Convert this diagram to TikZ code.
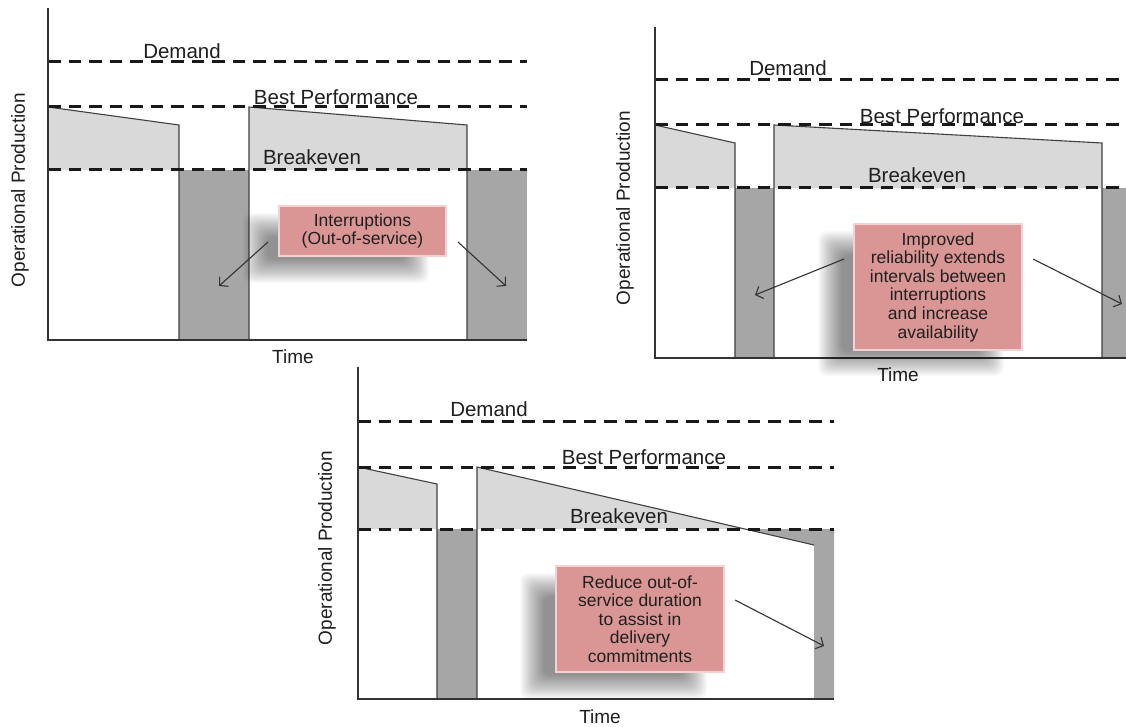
\documentclass[tikz,border=0pt]{standalone}
\usepackage{fontspec}
\setmainfont{Liberation Sans}
\usetikzlibrary{arrows.meta}
\definecolor{lgray}{HTML}{D9D9D9}
\definecolor{dgray}{HTML}{A6A6A6}
\definecolor{edgec}{HTML}{404040}
\definecolor{boxfill}{HTML}{D99694}
\definecolor{boxedge}{HTML}{F4D2D2}
\definecolor{txt}{HTML}{1F1F1F}
\newcommand\mysoftshadow[4]{%
  \foreach \r in {-12,-11,...,12}{%
    \fill[black,opacity=0.021,rounded corners=8pt] ({#1-\r},{#2-\r}) rectangle ({#3+\r},{#4+\r});
  }}
\begin{document}
\begin{tikzpicture}[x=1pt,y=-1pt,
  dashedline/.style={line width=3pt, dash pattern=on 12.5pt off 8pt, black!90},
  outline/.style={edgec, line width=1.1pt},
  axisline/.style={black!80, line width=1.3pt},
  lbl/.style={font=\fontsize{20.5}{24}\selectfont, text=txt, inner sep=0pt},
  axlbl/.style={font=\fontsize{19}{22}\selectfont, text=txt, inner sep=0pt},
  callout/.style={fill=boxfill, draw=boxedge, line width=1.6pt,
    font=\fontsize{17.5}{18.6}\selectfont, text=txt, align=center, inner sep=0pt},
  arr/.style={-{Straight Barb[length=6pt,width=13pt]}, line width=1.1pt, black!80}]
\useasboundingbox (0,0) rectangle (1126,727);
\fill[white] (0,0) rectangle (1126,727);

% ---------------- Panel 1 (top left) ----------------
\fill[lgray] (48,107) -- (179,125) -- (179,170) -- (48,170) -- cycle;
\fill[lgray] (249,107) -- (467,125) -- (467,170) -- (249,170) -- cycle;
\fill[dgray] (179,170) rectangle (249,340);
\fill[dgray] (467,170) rectangle (527,340);
\draw[outline] (48,107) -- (179,125) -- (179,340);
\draw[outline] (249,340) -- (249,107) -- (467,125) -- (467,340);
\draw[dashedline] (48,62) -- (527,62);
\draw[dashedline] (48,107) -- (527,107);
\draw[dashedline] (48,170) -- (527,170);
\draw[axisline] (48,8) -- (48,340) -- (527,340);
\node[lbl] (d1) at (182,51) {Demand};
\node[lbl] (b1) at (336,97) {Best Performance};
\node[lbl] (k1) at (312,157) {Breakeven};
\node[axlbl] (t1) at (293,357) {Time};
\node[axlbl, rotate=90] (o1) at (20,190) {Operational Production};

% ---------------- Panel 2 (top right) ----------------
\fill[lgray] (655,125) -- (735,143) -- (735,188) -- (655,188) -- cycle;
\fill[lgray] (774,125) -- (1102,143) -- (1102,188) -- (774,188) -- cycle;
\fill[dgray] (735,188) rectangle (774,358);
\fill[dgray] (1102,188) rectangle (1126,358);
\draw[outline] (655,125) -- (735,143) -- (735,358);
\draw[outline] (774,358) -- (774,125) -- (1102,143) -- (1102,358);
\draw[dashedline] (655,80) -- (1126,80);
\draw[dashedline] (655,125) -- (1126,125);
\draw[dashedline] (655,188) -- (1126,188);
\draw[axisline] (655,27) -- (655,358) -- (1126,358);
\node[lbl] (d2) at (788,68) {Demand};
\node[lbl] (b2) at (942,116) {Best Performance};
\node[lbl] (k2) at (917,175) {Breakeven};
\node[axlbl] (t2) at (898,375) {Time};
\node[axlbl, rotate=90] (o2) at (625,208) {Operational Production};

% ---------------- Panel 3 (bottom) ----------------
\fill[lgray] (358,467) -- (437,484) -- (437,529) -- (358,529) -- cycle;
\fill[lgray] (477,467) -- (745,529) -- (477,529) -- cycle;
\fill[dgray] (437,529) rectangle (477,699);
\fill[dgray] (745,529) -- (814,545) -- (814,699) -- (834,699) -- (834,529) -- cycle;
\draw[outline] (358,467) -- (437,484) -- (437,699);
\draw[outline] (477,699) -- (477,467) -- (814,545);
\draw[dashedline] (358,421) -- (834,421);
\draw[dashedline] (358,467) -- (834,467);
\draw[dashedline] (358,529) -- (834,529);
\draw[axisline] (358,367) -- (358,699) -- (834,699);
\node[lbl] (d3) at (489,409) {Demand};
\node[lbl] (b3) at (644,457) {Best Performance};
\node[lbl] (k3) at (619,516) {Breakeven};
\node[axlbl] (t3) at (600,717) {Time};
\node[axlbl, rotate=90] (o3) at (327,548) {Operational Production};

% ---------------- shadows ----------------
\mysoftshadow{255}{225}{417}{271}
\mysoftshadow{830}{243}{992}{364}
\mysoftshadow{532}{585}{695}{687}

% ---------------- callouts ----------------
\node[callout, minimum width=167pt, minimum height=50pt] (c1) at (362.5,231)
  {Interruptions\\(Out-of-service)};
\node[callout, minimum width=168pt, minimum height=126pt] (c2) at (938,287)
  {Improved\\reliability extends\\intervals between\\interruptions\\and increase\\availability};
\node[callout, minimum width=168pt, minimum height=106pt] (c3) at (640,619)
  {Reduce out-of-\\service duration\\to assist in\\delivery\\commitments};

% ---------------- arrows ----------------
\coordinate (a1s) at (268,242); \coordinate (a1e) at (219,286);
\coordinate (a2s) at (458,242); \coordinate (a2e) at (506,286);
\coordinate (a3s) at (844,259); \coordinate (a3e) at (755,295);
\coordinate (a4s) at (1033,259); \coordinate (a4e) at (1122,304);
\coordinate (a5s) at (735,600); \coordinate (a5e) at (824,646);
\draw[arr] (a1s) -- (a1e);
\draw[arr] (a2s) -- (a2e);
\draw[arr] (a3s) -- (a3e);
\draw[arr] (a4s) -- (a4e);
\draw[arr] (a5s) -- (a5e);
\end{tikzpicture}
\end{document}
